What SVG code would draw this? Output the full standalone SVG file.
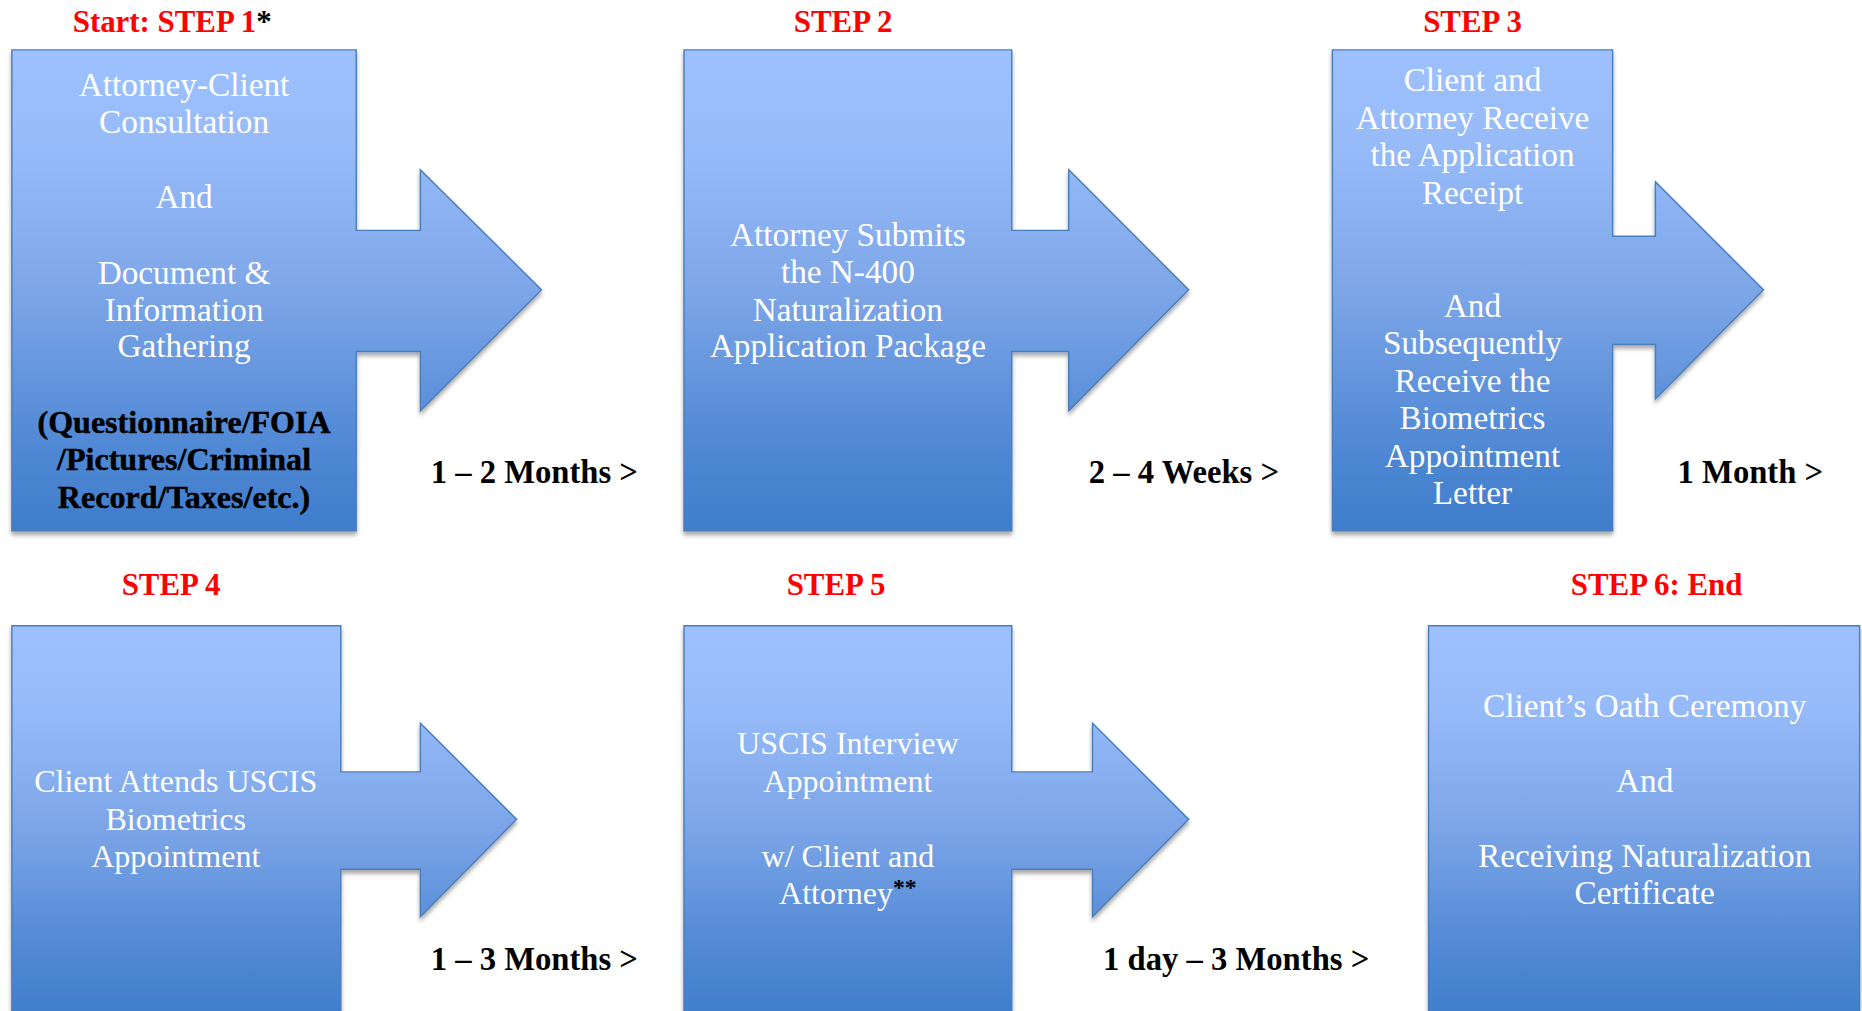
<svg xmlns="http://www.w3.org/2000/svg" width="1862" height="1011" viewBox="0 0 1862 1011">
<defs>
<linearGradient id="blue" x1="0" y1="0" x2="0" y2="1">
<stop offset="0" stop-color="#9DC1FE"/>
<stop offset="0.2" stop-color="#97BBF9"/>
<stop offset="0.5" stop-color="#7DA6E8"/>
<stop offset="0.8" stop-color="#538AD6"/>
<stop offset="1" stop-color="#3E7DCB"/>
</linearGradient>
<filter id="sh" x="-5%" y="-5%" width="110%" height="115%">
<feDropShadow dx="0" dy="3" stdDeviation="2" flood-color="#000" flood-opacity="0.35"/>
</filter>
</defs>
<style>
.shape{fill:url(#blue);stroke:#4A7EBB;stroke-width:1.2;filter:url(#sh)}
.w{font-family:"Liberation Serif",serif;font-size:28px;fill:#fff;text-anchor:middle}
.w2{font-family:"Liberation Serif",serif;font-size:27px;fill:#fff;text-anchor:middle}
.k{font-family:"Liberation Serif",serif;font-size:27px;font-weight:bold;fill:#000;stroke:#000;stroke-width:0.4;text-anchor:middle}
.t{font-family:"Liberation Serif",serif;font-size:26px;font-weight:bold;fill:#FF0000;text-anchor:middle}
.l{font-family:"Liberation Serif",serif;font-size:27.5px;font-weight:bold;fill:#000;text-anchor:middle}
</style>
<rect width="1862" height="1011" fill="#fff"/>
<g transform="scale(1.1875)">
<g id="connectors">
<text class="l" x="450" y="407">1 – 2 Months &gt;</text>
<text class="l" x="997" y="407">2 – 4 Weeks &gt;</text>
<text class="l" x="1474" y="407">1 Month &gt;</text>
<text class="l" x="450" y="817">1 – 3 Months &gt;</text>
<text class="l" x="1041" y="817">1 day – 3 Months &gt;</text>
</g>
<g id="step1">
<text class="t" x="145" y="27">Start: STEP 1<tspan fill="#000">*</tspan></text>
<path class="shape" d="M10,42 H300 V194 H354 V143 L456,244 L354,346 V296 H300 V447 H10 Z"/>
<text class="w" x="155" y="81">Attorney-Client</text>
<text class="w" x="155" y="112">Consultation</text>
<text class="w" x="155" y="175">And</text>
<text class="w" x="155" y="239">Document &amp;</text>
<text class="w" x="155" y="270">Information</text>
<text class="w" x="155" y="301">Gathering</text>
<text class="k" x="155" y="365">(Questionnaire/FOIA</text>
<text class="k" x="155" y="396">/Pictures/Criminal</text>
<text class="k" x="155" y="428">Record/Taxes/etc.)</text>
</g>
<g id="step2">
<text class="t" x="710" y="27">STEP 2</text>
<path class="shape" d="M576,42 H852 V194 H900 V143 L1001,244 L900,346 V296 H852 V447 H576 Z"/>
<text class="w" x="714" y="207">Attorney Submits</text>
<text class="w" x="714" y="238">the N-400</text>
<text class="w" x="714" y="270">Naturalization</text>
<text class="w" x="714" y="301">Application Package</text>
</g>
<g id="step3">
<text class="t" x="1240" y="27">STEP 3</text>
<path class="shape" d="M1122,42 H1358 V199 H1394 V153 L1485,244 L1394,336 V290 H1358 V447 H1122 Z"/>
<text class="w" x="1240" y="77">Client and</text>
<text class="w" x="1240" y="109">Attorney Receive</text>
<text class="w" x="1240" y="140">the Application</text>
<text class="w" x="1240" y="172">Receipt</text>
<text class="w" x="1240" y="267">And</text>
<text class="w" x="1240" y="298">Subsequently</text>
<text class="w" x="1240" y="330">Receive the</text>
<text class="w" x="1240" y="361">Biometrics</text>
<text class="w" x="1240" y="393">Appointment</text>
<text class="w" x="1240" y="424">Letter</text>
</g>
<g id="step4">
<text class="t" x="144" y="501">STEP 4</text>
<path class="shape" d="M10,527 H287 V650 H354 V609 L435,690 L354,772 V732 H287 V860 H10 Z"/>
<text class="w2" x="148" y="667">Client Attends USCIS</text>
<text class="w2" x="148" y="699">Biometrics</text>
<text class="w2" x="148" y="730">Appointment</text>
</g>
<g id="step5">
<text class="t" x="704" y="501">STEP 5</text>
<path class="shape" d="M576,527 H852 V650 H920 V609 L1001,690 L920,772 V732 H852 V860 H576 Z"/>
<text class="w2" x="714" y="635">USCIS Interview</text>
<text class="w2" x="714" y="667">Appointment</text>
<text class="w2" x="714" y="730">w/ Client and</text>
<text class="w2" x="714" y="761">Attorney<tspan fill="#000" font-weight="bold" font-size="20" dy="-7">**</tspan></text>
</g>
<g id="step6">
<text class="t" x="1395" y="501">STEP 6: End</text>
<path class="shape" d="M1203,527 H1566 V860 H1203 Z"/>
<text class="w" x="1385" y="604">Client’s Oath Ceremony</text>
<text class="w" x="1385" y="667">And</text>
<text class="w" x="1385" y="730">Receiving Naturalization</text>
<text class="w" x="1385" y="761">Certificate</text>
</g>
</g>
</svg>
